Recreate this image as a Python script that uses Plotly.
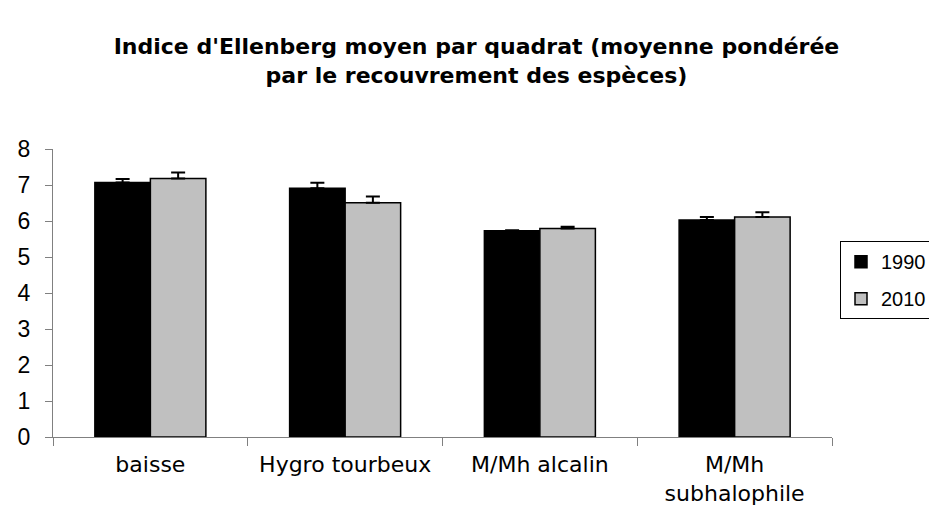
import plotly.graph_objects as go

categories = ["baisse", "Hygro tourbeux", "M/Mh alcalin", "M/Mh<br>subhalophile"]
values_1990 = [7.07, 6.91, 5.73, 6.03]
errors_1990 = [0.10, 0.15, 0.01, 0.08]
values_2010 = [7.18, 6.51, 5.79, 6.11]
errors_2010 = [0.17, 0.17, 0.05, 0.13]
y_ticks = [0, 1, 2, 3, 4, 5, 6, 7, 8]

FONT = "Liberation Sans, Arial, sans-serif"
WIDE = "DejaVu Sans, Liberation Sans, sans-serif"
AXIS_COL = "#808080"

fig = go.Figure()
fig.add_trace(go.Bar(
    name="1990", x=categories, y=values_1990, legendgroup="a",
    marker=dict(color="#000000", line=dict(color="#000000", width=1.5)),
    error_y=dict(type="data", symmetric=False, array=errors_1990,
                 arrayminus=[0] * len(errors_1990),
                 color="#000000", thickness=2, width=7),
))
fig.add_trace(go.Bar(
    name="2010", x=categories, y=values_2010, legendgroup="b",
    marker=dict(color="#c0c0c0", line=dict(color="#000000", width=1.5)),
    error_y=dict(type="data", symmetric=False, array=errors_2010,
                 arrayminus=[0] * len(errors_2010),
                 color="#000000", thickness=2, width=7),
))

fig.update_layout(
    width=937, height=511,
    margin=dict(l=45, r=113, t=141, b=82, autoexpand=False),
    paper_bgcolor="white", plot_bgcolor="white",
    font=dict(family=FONT, size=23, color="#000000"),
    barmode="group", bargap=0.43, bargroupgap=0,
    title=dict(
        text="<b>Indice d'Ellenberg moyen par quadrat (moyenne pondérée<br>par le recouvrement des espèces)</b>",
        x=0.5, xref="container", xanchor="center",
        y=1 - 46 / 511, yref="container", yanchor="middle",
        font=dict(family=WIDE, size=22, color="#000000"),
    ),
    legend=dict(
        x=(832 - 45) / 779, xanchor="left", y=0.68, yanchor="top",
        bordercolor="#000000", borderwidth=1,
        font=dict(family=FONT, size=20),
        tracegroupgap=8,
    ),
    showlegend=True,
)
fig.update_xaxes(
    automargin=False,
    showline=True, linecolor=AXIS_COL, linewidth=1,
    ticks="outside", tickson="boundaries", ticklen=8, tickcolor=AXIS_COL,
    showgrid=False, tickfont=dict(family=WIDE, size=22), ticklabelstandoff=8,
)
fig.update_yaxes(
    automargin=False,
    range=[0, 8], tickvals=y_ticks, showline=True, linecolor=AXIS_COL, linewidth=1,
    ticks="outside", ticklen=7, tickcolor=AXIS_COL, showgrid=False, zeroline=False,
    tickfont=dict(family=FONT, size=23), ticklabelstandoff=10,
)

fig.write_html("out.html")
